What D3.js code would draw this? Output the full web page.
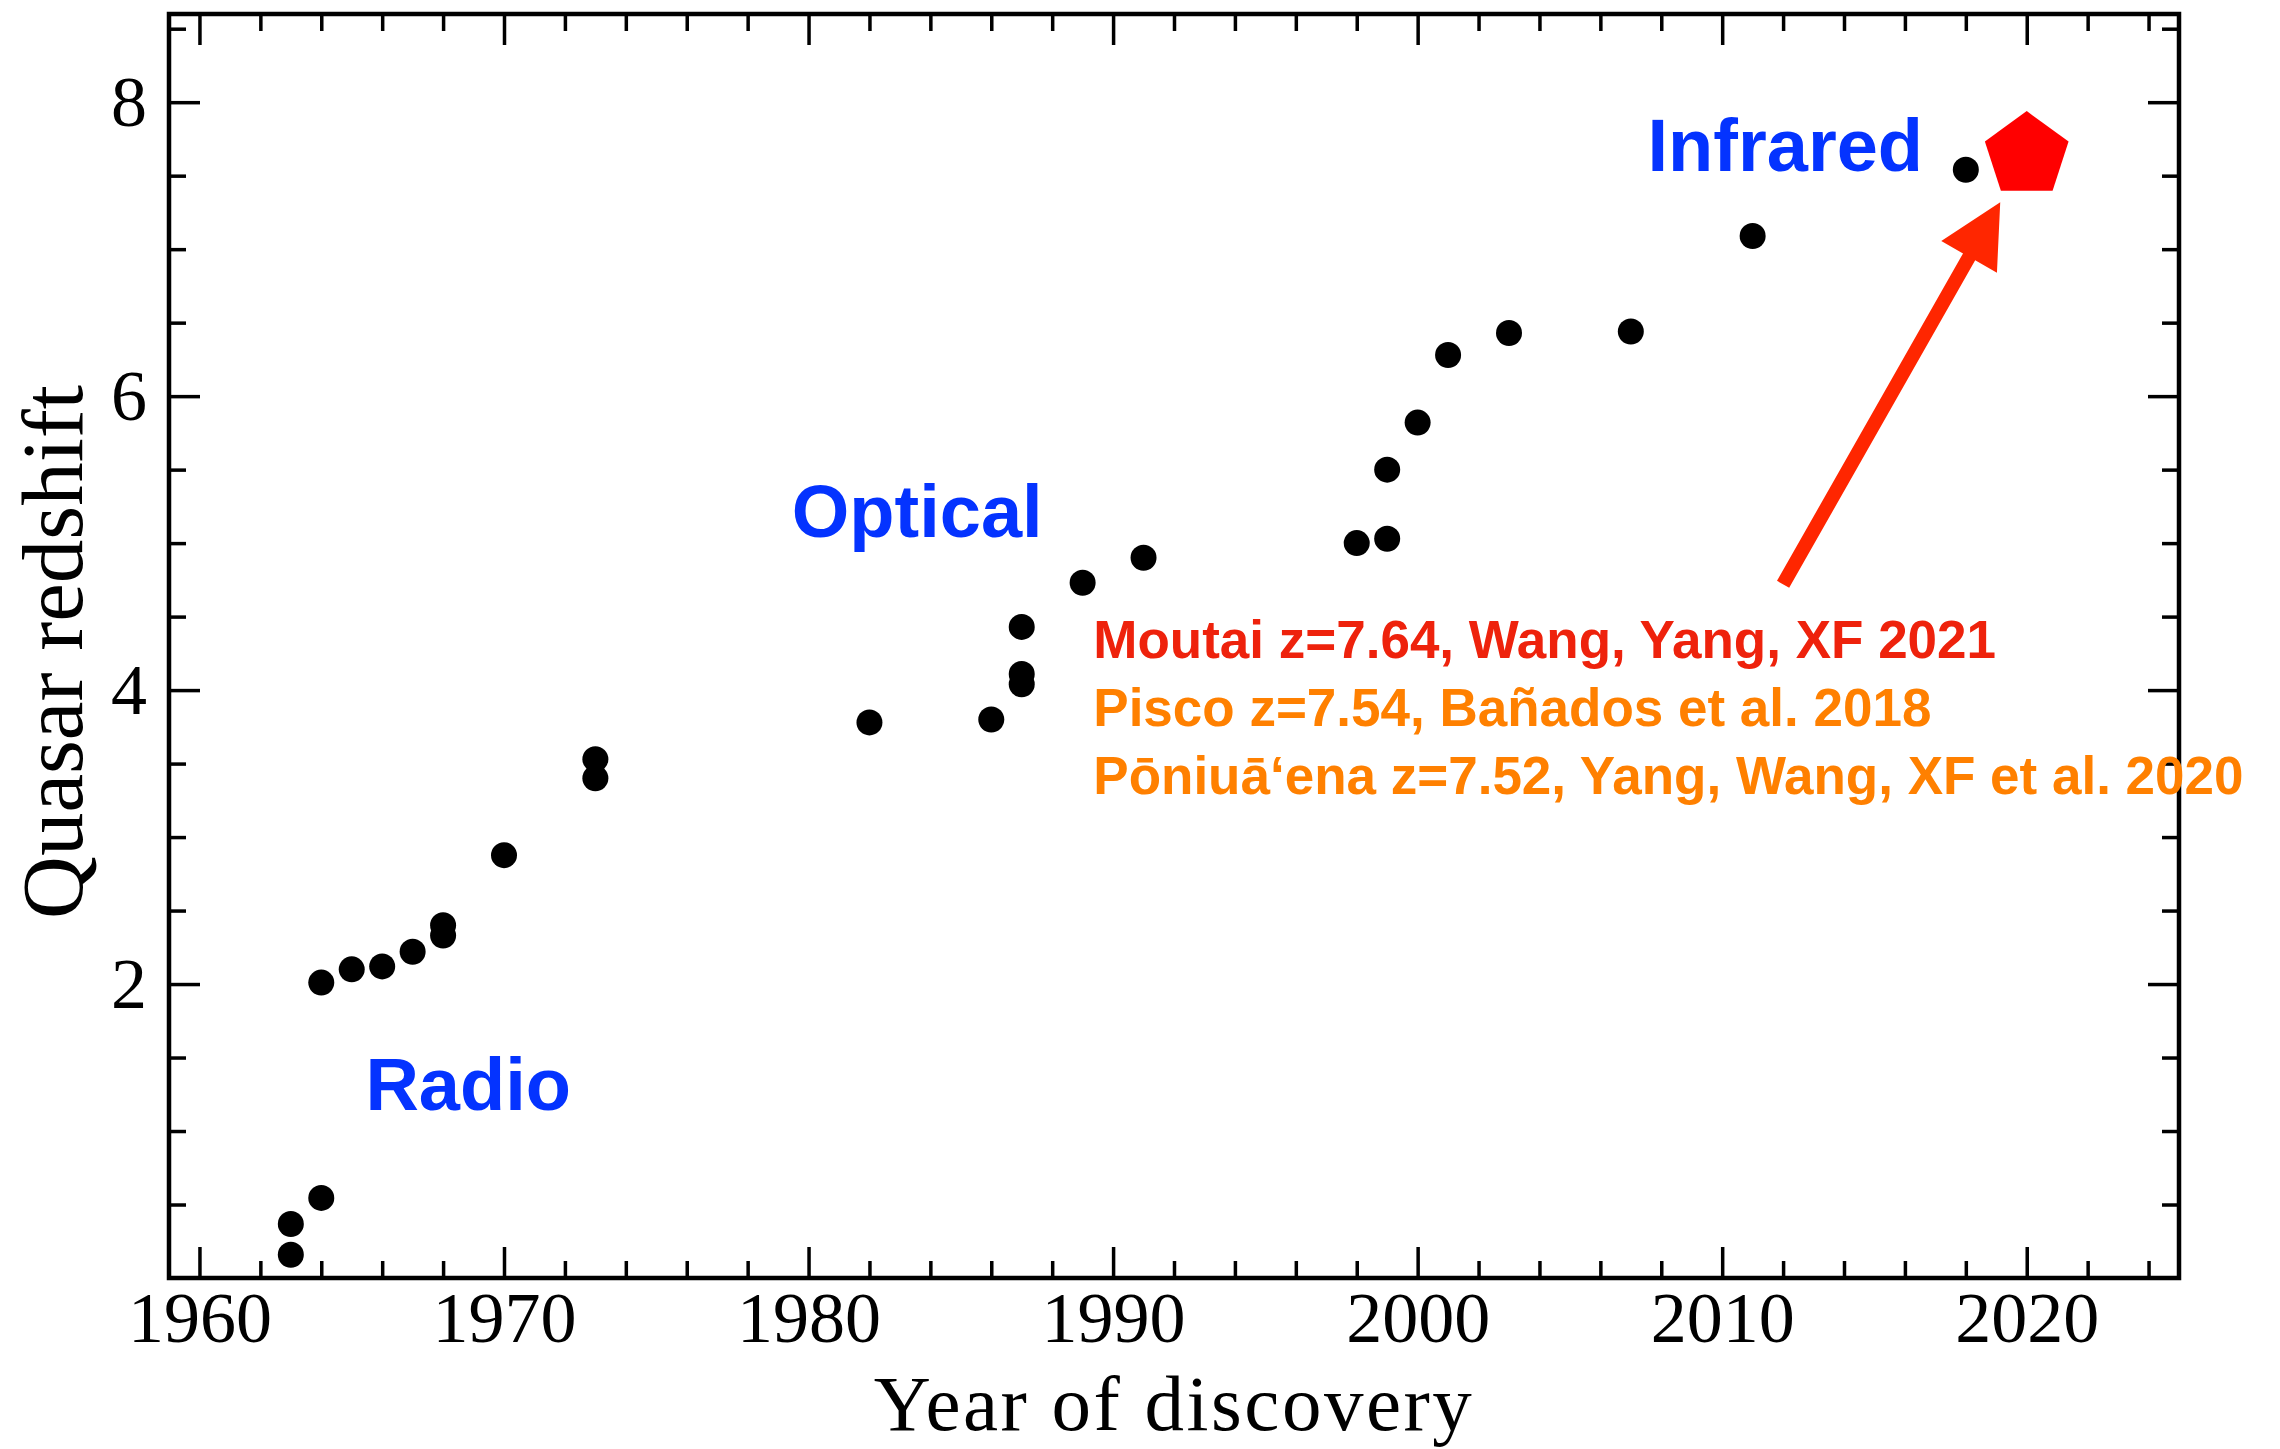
<!DOCTYPE html>
<html>
<head>
<meta charset="utf-8">
<script src="https://cdn.jsdelivr.net/npm/d3@7"></script>
<style>
    body { margin: 0; background: #fff; }
    svg { display: block; }
</style>
</head>
<body>
<div id="chart"></div>
<script>
// discovery year and redshift of record-holding quasars
const years     = [1963, 1963, 1964, 1964, 1965, 1966, 1967, 1968, 1968, 1970, 1973, 1973, 1982, 1986,
                   1987, 1987, 1987, 1989, 1991, 1998, 1999, 1999, 2000, 2001, 2003, 2007, 2011, 2018];
const redshifts = [0.158, 0.367, 0.545, 2.01, 2.10, 2.12, 2.22, 2.33, 2.40, 2.877, 3.40, 3.53, 3.78, 3.80,
                   4.04, 4.11, 4.43, 4.73, 4.90, 5.00, 5.03, 5.50, 5.82, 6.28, 6.43, 6.44, 7.09, 7.54];

// the newest record (Moutai)
const record_year = [2020];
const record_z    = [7.64];

const x_ticks = [1960, 1970, 1980, 1990, 2000, 2010, 2020];
const y_ticks = [2, 4, 6, 8];

const band_names = ['Radio', 'Optical', 'Infrared'];
const band_years = [1965.45, 1979.45, 2007.55];
const band_z     = [1.14, 5.04, 7.53];

const note_lines = [
    'Moutai z=7.64, Wang, Yang, XF 2021',
    'Pisco z=7.54, Bañados et al. 2018',
    'Pōniuāʻena z=7.52, Yang, Wang, XF et al. 2020'
];

const arrow_years = [2012.0, 2019.13];
const arrow_z     = [4.72, 7.32];

const width = 2280, height = 1449;
const margin = {left: 169, right: 101, top: 14, bottom: 171};

const svg = d3.select('#chart').append('svg')
    .attr('width', width).attr('height', height);
svg.append('rect').attr('width', width).attr('height', height).attr('fill', '#fff');

const x_scale = d3.scaleLinear().domain([1959, 2025]).range([margin.left, width - margin.right]);
const y_scale = d3.scaleLinear().domain([0, 8.6]).range([height - margin.bottom, margin.top]);

const x_minor = d3.range(1960, 2025, 2).filter(d => d % 10 != 0);
const y_minor = d3.range(0.5, 8.6, 0.5).filter(d => d % 2 != 0);

const serif = "'Liberation Serif', 'DejaVu Serif', serif";
const sans = "'Liberation Sans', Arial, sans-serif";
const major_len = 31, minor_len = 17;

function styleAxis(g){
    g.select('.domain').remove();
    g.selectAll('.tick line').attr('stroke', '#000').attr('stroke-width', 3.5);
    g.selectAll('.tick text').attr('fill', '#000').style('font-family', serif).style('font-size', '72px');
}

const plot_h = height - margin.bottom;
const plot_w = width - margin.right;

// bottom + top axes (ticks point inward)
svg.append('g').attr('transform', `translate(0,${plot_h})`)
    .call(d3.axisBottom(x_scale).tickValues(x_ticks).tickFormat(d3.format('d')).tickSize(-major_len).tickPadding(13))
    .call(styleAxis);
svg.append('g').attr('transform', `translate(0,${plot_h})`)
    .call(d3.axisBottom(x_scale).tickValues(x_minor).tickFormat('').tickSize(-minor_len))
    .call(styleAxis);
svg.append('g').attr('transform', `translate(0,${margin.top})`)
    .call(d3.axisTop(x_scale).tickValues(x_ticks).tickFormat('').tickSize(-major_len))
    .call(styleAxis);
svg.append('g').attr('transform', `translate(0,${margin.top})`)
    .call(d3.axisTop(x_scale).tickValues(x_minor).tickFormat('').tickSize(-minor_len))
    .call(styleAxis);

// left + right axes
svg.append('g').attr('transform', `translate(${margin.left},0)`)
    .call(d3.axisLeft(y_scale).tickValues(y_ticks).tickSize(-major_len).tickPadding(22))
    .call(styleAxis);
svg.append('g').attr('transform', `translate(${margin.left},0)`)
    .call(d3.axisLeft(y_scale).tickValues(y_minor).tickFormat('').tickSize(-minor_len))
    .call(styleAxis);
svg.append('g').attr('transform', `translate(${plot_w},0)`)
    .call(d3.axisRight(y_scale).tickValues(y_ticks).tickFormat('').tickSize(-major_len))
    .call(styleAxis);
svg.append('g').attr('transform', `translate(${plot_w},0)`)
    .call(d3.axisRight(y_scale).tickValues(y_minor).tickFormat('').tickSize(-minor_len))
    .call(styleAxis);

// frame
svg.append('rect')
    .attr('x', margin.left).attr('y', margin.top)
    .attr('width', plot_w - margin.left).attr('height', plot_h - margin.top)
    .attr('fill', 'none').attr('stroke', '#000').attr('stroke-width', 4.5);

// axis titles
svg.append('text')
    .attr('x', (margin.left + plot_w) / 2).attr('y', 1430)
    .attr('text-anchor', 'middle')
    .style('font-family', serif).style('font-size', '79px').style('letter-spacing', '2.5px')
    .text('Year of discovery');
svg.append('text')
    .attr('transform', `translate(82,${(margin.top + plot_h) / 2 + 6}) rotate(-90)`)
    .attr('text-anchor', 'middle')
    .style('font-family', serif).style('font-size', '87px')
    .text('Quasar redshift');

// points
svg.append('g').selectAll('circle')
    .data(d3.zip(years, redshifts))
    .join('circle')
    .attr('cx', d => x_scale(d[0]))
    .attr('cy', d => y_scale(d[1]))
    .attr('r', 13)
    .attr('fill', '#000');

// band labels
svg.append('g').selectAll('text')
    .data(d3.zip(band_names, band_years, band_z))
    .join('text')
    .attr('x', d => x_scale(d[1]))
    .attr('y', d => y_scale(d[2]))
    .attr('fill', '#0433FF')
    .style('font-family', sans).style('font-weight', 'bold').style('font-size', '74px')
    .text(d => d[0]);

// record pentagon
const pent_r = 44;
svg.append('g').selectAll('path')
    .data(d3.zip(record_year, record_z))
    .join('path')
    .attr('d', d => {
        const cx = x_scale(d[0]), cy = y_scale(d[1]);
        const pts = d3.range(5).map(i => {
            const a = -Math.PI / 2 + i * 2 * Math.PI / 5;
            return [cx + pent_r * Math.cos(a), cy + pent_r * Math.sin(a)];
        });
        return d3.line()(pts) + 'Z';
    })
    .attr('fill', '#FF0000');

// arrow pointing at the record
const tail = [x_scale(arrow_years[0]), y_scale(arrow_z[0])];
const tip = [x_scale(arrow_years[1]), y_scale(arrow_z[1])];
const ang = Math.atan2(tip[1] - tail[1], tip[0] - tail[0]);
const head_len = 63, head_half = 32, shaft_half = 7;
const ux = Math.cos(ang), uy = Math.sin(ang);
const base = [tip[0] - ux * head_len, tip[1] - uy * head_len];
svg.append('path')
    .attr('d', d3.line()([
        [tail[0] - uy * shaft_half, tail[1] + ux * shaft_half],
        [base[0] - uy * shaft_half, base[1] + ux * shaft_half],
        [base[0] - uy * head_half, base[1] + ux * head_half],
        tip,
        [base[0] + uy * head_half, base[1] - ux * head_half],
        [base[0] + uy * shaft_half, base[1] - ux * shaft_half],
        [tail[0] + uy * shaft_half, tail[1] - ux * shaft_half]
    ]) + 'Z')
    .attr('fill', '#FF2600');

// notes about the three highest-z quasars
const note_x = x_scale(1989.35);
const note_y = y_scale(4.22);
svg.append('g').selectAll('text')
    .data(note_lines)
    .join('text')
    .attr('x', note_x)
    .attr('y', (d, i) => note_y + i * 68)
    .attr('fill', (d, i) => i == 0 ? '#EE220C' : '#FF8000')
    .style('font-family', sans).style('font-weight', 'bold').style('font-size', '53px')
    .text(d => d);
</script>
</body>
</html>
